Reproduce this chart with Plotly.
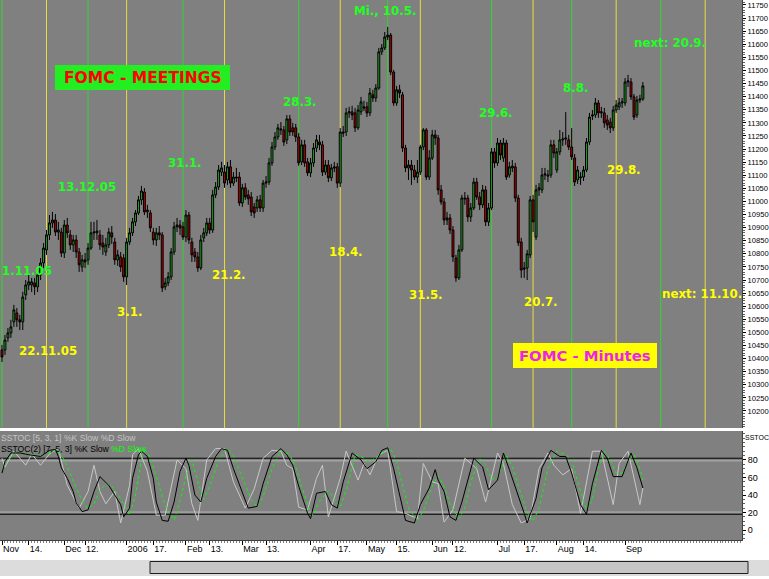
import plotly.graph_objects as go

# ---------------- DATA (daily bars, trading-day index 0 = 1 Nov 2005) ----------------
opens = [10433, 10433, 10479, 10498, 10540, 10574, 10548, 10540, 10643, 10681,
         10681, 10689, 10674, 10719, 10765, 10815, 10872, 10918, 10929, 10883,
         10883, 10803, 10910, 10872, 10834, 10853, 10807, 10750, 10777, 10777,
         10822, 10880, 10880, 10872, 10841, 10807, 10834, 10880, 10845, 10777,
         10788, 10784, 10712, 10845, 10880, 10922, 10956, 11006, 11036, 10960,
         10956, 10883, 10853, 10880, 10872, 10674, 10689, 10712, 10807, 10903,
         10910, 10903, 10864, 10948, 10845, 10807, 10788, 10746, 10861, 10880,
         10918, 10891, 11025, 11055, 11112, 11112, 11082, 11132, 11070, 11093,
         11093, 10994, 11052, 11025, 11017, 10979, 10975, 11006, 10975, 11070,
         11074, 11147, 11208, 11246, 11273, 11273, 11235, 11315, 11281, 11281,
         11246, 11151, 11216, 11151, 11109, 11147, 11204, 11227, 11216, 11112,
         11139, 11090, 11132, 11132, 11070, 11265, 11265, 11338, 11342, 11338,
         11281, 11342, 11361, 11361, 11338, 11407, 11395, 11433, 11571, 11586,
         11628, 11635, 11494, 11376, 11426, 11407, 11204, 11128, 11139, 11120,
         11093, 11112, 11208, 11273, 11093, 11166, 11254, 11242, 11044, 10998,
         10929, 10937, 10891, 10784, 10708, 10815, 11013, 11013, 10941, 10975,
         11074, 11017, 10987, 11044, 10922, 10975, 11189, 11147, 11223, 11166,
         11223, 11101, 11128, 11132, 11013, 10845, 10746, 10746, 10796, 11006,
         10864, 11044, 11044, 11101, 11101, 11101, 11216, 11120, 11189, 11235,
         11238, 11235, 11208, 11166, 11082, 11090, 11093, 11120, 11227, 11326,
         11330, 11376, 11338, 11338, 11311, 11303, 11281, 11349, 11361, 11376,
         11376, 11456, 11456, 11399, 11330, 11387, 11391]
closes = [10406, 10471, 10498, 10521, 10586, 10548, 10540, 10635, 10681, 10693,
          10693, 10674, 10719, 10765, 10822, 10872, 10918, 10929, 10883, 10891,
          10803, 10910, 10880, 10834, 10853, 10807, 10758, 10777, 10769, 10822,
          10880, 10883, 10887, 10834, 10826, 10834, 10883, 10864, 10777, 10796,
          10750, 10712, 10845, 10880, 10922, 10956, 11006, 11040, 10960, 10967,
          10899, 10853, 10880, 10872, 10670, 10689, 10712, 10807, 10903, 10910,
          10899, 10864, 10948, 10853, 10796, 10788, 10746, 10853, 10880, 10918,
          10891, 11025, 11055, 11120, 11128, 11070, 11132, 11070, 11093, 11090,
          10994, 11052, 11017, 11010, 10960, 10956, 11006, 10975, 11070, 11074,
          11147, 11208, 11246, 11281, 11276, 11227, 11315, 11265, 11265, 11246,
          11147, 11216, 11147, 11109, 11147, 11204, 11235, 11216, 11112, 11139,
          11090, 11128, 11128, 11070, 11265, 11261, 11338, 11342, 11330, 11281,
          11349, 11380, 11357, 11338, 11414, 11395, 11433, 11571, 11586, 11628,
          11635, 11494, 11376, 11426, 11414, 11204, 11128, 11139, 11120, 11093,
          11112, 11208, 11273, 11093, 11166, 11254, 11242, 11044, 10998, 10929,
          10937, 10891, 10788, 10708, 10815, 11013, 11010, 10941, 10975, 11074,
          11017, 10987, 11044, 10922, 10975, 11189, 11147, 11223, 11177, 11223,
          11093, 11132, 11135, 11013, 10842, 10738, 10742, 10800, 11006, 10922,
          11044, 11052, 11101, 11105, 11097, 11216, 11185, 11189, 11235, 11238,
          11242, 11208, 11170, 11074, 11120, 11093, 11120, 11227, 11322, 11330,
          11376, 11338, 11342, 11300, 11292, 11281, 11349, 11368, 11376, 11380,
          11456, 11460, 11399, 11322, 11387, 11391, 11441]
highs = [10452, 10490, 10517, 10548, 10605, 10593, 10567, 10655, 10700, 10719,
         10708, 10708, 10738, 10784, 10841, 10891, 10948, 10960, 10952, 10922,
         10899, 10929, 10937, 10891, 10872, 10872, 10822, 10796, 10803, 10841,
         10922, 10922, 10929, 10891, 10872, 10861, 10899, 10906, 10861, 10815,
         10807, 10799, 10861, 10899, 10937, 10967, 11021, 11059, 11051, 10987,
         10967, 10899, 10899, 10906, 10883, 10708, 10731, 10822, 10922, 10937,
         10929, 10922, 10967, 10960, 10861, 10822, 10807, 10872, 10899, 10937,
         10937, 11044, 11074, 11139, 11151, 11139, 11151, 11158, 11112, 11128,
         11112, 11067, 11070, 11044, 11036, 10994, 11021, 11025, 11082, 11097,
         11166, 11227, 11265, 11296, 11303, 11288, 11330, 11330, 11300, 11296,
         11261, 11235, 11235, 11166, 11166, 11223, 11254, 11254, 11231, 11158,
         11158, 11143, 11151, 11147, 11280, 11288, 11357, 11361, 11365, 11357,
         11368, 11399, 11384, 11380, 11433, 11426, 11448, 11586, 11601, 11647,
         11666, 11643, 11502, 11441, 11445, 11418, 11216, 11158, 11158, 11139,
         11158, 11216, 11280, 11280, 11196, 11273, 11273, 11254, 11063, 11013,
         10960, 10952, 10906, 10796, 10834, 11025, 11036, 11025, 10994, 11090,
         11090, 11036, 11063, 11059, 10994, 11204, 11204, 11242, 11235, 11242,
         11235, 11151, 11158, 11147, 11025, 10861, 10769, 10815, 11021, 11025,
         11063, 11070, 11128, 11128, 11120, 11235, 11235, 11204, 11273, 11265,
         11341, 11254, 11280, 11181, 11135, 11112, 11135, 11242, 11338, 11349,
         11395, 11387, 11361, 11357, 11330, 11319, 11364, 11387, 11395, 11395,
         11471, 11483, 11471, 11410, 11403, 11407, 11456]
lows = [10387, 10414, 10464, 10479, 10521, 10521, 10509, 10509, 10624, 10662,
        10654, 10643, 10654, 10700, 10746, 10796, 10853, 10899, 10868, 10853,
        10788, 10784, 10861, 10815, 10807, 10784, 10731, 10731, 10746, 10758,
        10815, 10853, 10853, 10815, 10796, 10792, 10822, 10838, 10758, 10754,
        10731, 10693, 10681, 10834, 10868, 10906, 10948, 10987, 10948, 10937,
        10883, 10834, 10830, 10853, 10654, 10662, 10677, 10700, 10796, 10883,
        10872, 10853, 10845, 10838, 10769, 10769, 10731, 10738, 10845, 10868,
        10876, 10880, 11013, 11044, 11097, 11052, 11063, 11052, 11059, 11074,
        10983, 10979, 11006, 10987, 10944, 10937, 10960, 10960, 10960, 11052,
        11063, 11136, 11196, 11235, 11254, 11212, 11219, 11250, 11250, 11227,
        11136, 11139, 11132, 11097, 11093, 11132, 11189, 11196, 11097, 11101,
        11074, 11078, 11112, 11052, 11055, 11246, 11250, 11319, 11311, 11265,
        11273, 11330, 11345, 11322, 11326, 11380, 11380, 11426, 11559, 11578,
        11616, 11482, 11365, 11365, 11395, 11189, 11112, 11082, 11063, 11082,
        11070, 11101, 11196, 11082, 11082, 11158, 11216, 11025, 10987, 10910,
        10910, 10876, 10769, 10693, 10700, 10807, 10987, 10922, 10922, 10967,
        11006, 10967, 10975, 10906, 10906, 10967, 11128, 11136, 11158, 11151,
        11082, 11090, 11112, 10998, 10830, 10708, 10708, 10700, 10784, 10883,
        10853, 11021, 11032, 11082, 11074, 11090, 11166, 11109, 11177, 11212,
        11216, 11196, 11158, 11059, 11067, 11063, 11078, 11112, 11216, 11311,
        11319, 11319, 11319, 11281, 11273, 11261, 11269, 11338, 11349, 11357,
        11365, 11437, 11387, 11311, 11319, 11376, 11384]

# FOMC meeting days / minutes release days (trading-day index)
meeting_idx = [0, 29, 61, 100, 130, 165, 192, 222]
minutes_idx = [15, 42, 75, 114, 141, 179, 207, 237]

# x-axis labels
tick_idx = [0, 9, 21, 28, 42, 51, 62, 70, 81, 89, 104, 113, 123, 133, 145, 152, 167, 176, 187, 196, 210]
tick_txt = ["Nov", "14.", "Dec", "12.", "2006", "17.", "Feb", "13.", "Mar", "13.", "Apr", "17.",
            "May", "15.", "Jun", "12.", "Jul", "17.", "Aug", "14.", "Sep"]
price_ticks = [10200, 10250, 10300, 10350, 10400, 10450, 10500, 10550, 10600, 10650, 10700,
               10750, 10800, 10850, 10900, 10950, 11000, 11050, 11100, 11150, 11200, 11250,
               11300, 11350, 11400, 11450, 11500, 11550, 11600, 11650, 11700, 11750]
stoch_ticks = [0, 20, 40, 60, 80]

# SSTOC(2) [7,5,3] %K (black)
k2_idx = [0, 1, 3, 6, 9, 13, 16, 18, 19, 20, 22, 24, 25, 27, 29, 31, 33, 35, 36, 38, 40, 41, 43, 44,
          46, 47, 49, 51, 52, 54, 56, 58, 60, 62, 63, 65, 67, 69, 72, 74, 76, 78, 81, 83, 86, 88, 91,
          94, 96, 98, 100, 103, 104, 106, 109, 111, 113, 115, 118, 121, 123, 126, 128, 130, 132, 134,
          136, 139, 141, 144, 146, 147, 149, 151, 153, 155, 159, 162, 164, 167, 169, 171, 174, 176,
          177, 180, 182, 185, 188, 190, 192, 195, 197, 199, 202, 204, 206, 209, 212, 214, 216]
k2_val = [65, 78, 88, 88, 86, 84, 91, 92, 84, 71, 59, 44, 31, 21, 23, 44, 61, 55, 51, 40, 29, 15, 25, 59,
          86, 90, 84, 59, 32, 11, 10, 32, 67, 82, 74, 40, 32, 59, 84, 93, 91, 70, 44, 25, 27, 53, 84,
          93, 86, 74, 50, 19, 13, 42, 44, 29, 25, 55, 88, 80, 70, 78, 91, 94, 70, 40,
          11, 8, 29, 48, 69, 57, 44, 15, 11, 32, 82, 72, 46, 57, 88, 69, 40, 19,
          8, 36, 71, 91, 84, 84, 65, 29, 18, 53, 91, 82, 61, 61, 88, 71, 48]
# SSTOC(2) %D (green dotted)
d2_idx = [0, 2, 5, 9, 13, 17, 19, 21, 24, 27, 29, 31, 33, 35, 37, 40, 43, 45, 47, 48, 50, 52, 55, 58,
          60, 62, 64, 66, 68, 70, 73, 76, 78, 81, 84, 86, 88, 91, 94, 97, 99, 101, 104, 105, 107, 110,
          112, 114, 116, 119, 121, 124, 127, 131, 133, 135, 137, 140, 142, 145, 147, 149, 151, 154,
          156, 158, 161, 163, 165, 167, 170, 172, 175, 177, 179, 181, 184, 187, 190, 192, 194, 197,
          199, 201, 203, 205, 207, 209, 211, 213, 215, 216]
d2_val = [70, 82, 88, 86, 85, 90, 90, 80, 56, 33, 24, 30, 45, 53, 50, 36, 17, 40, 80, 92, 83, 60, 28, 11,
          33, 62, 80, 55, 35, 50, 80, 93, 85, 60, 35, 26, 38, 70, 91, 86, 72, 50, 20, 17, 33, 45,
          35, 26, 45, 86, 84, 78, 85, 93, 78, 50, 25, 10, 22, 50, 62, 50, 30, 13,
          25, 55, 82, 75, 58, 60, 85, 72, 40, 20, 10, 25, 70, 90, 86, 80, 55, 23,
          35, 70, 90, 80, 65, 65, 78, 86, 70, 57]
# SSTOC [5,3,1] %K (light grey)
k1_idx = [0, 1, 4, 8, 10, 13, 16, 19, 22, 26, 29, 31, 33, 35, 38, 40, 43, 44, 46, 49, 52, 55, 59, 62,
          64, 66, 69, 72, 75, 78, 82, 85, 88, 91, 94, 96, 98, 100, 103, 106, 108, 110, 114, 116, 120,
          122, 124, 127, 130, 133, 136, 140, 142, 145, 147, 149, 152, 156, 160, 163, 167, 169, 172,
          175, 178, 181, 184, 186, 189, 192, 195, 199, 202, 206, 208, 211, 215, 216]
k1_val = [82, 72, 90, 74, 87, 74, 87, 93, 51, 25, 44, 74, 44, 30, 44, 8, 51, 86, 93, 67, 17, 17, 80, 70,
          30, 11, 80, 93, 93, 55, 25, 47, 82, 91, 90, 74, 70, 26, 23, 59, 74, 15, 59, 90, 57,
          76, 63, 86, 91, 21, 19, 13, 76, 55, 53, 9, 23, 82, 70, 32, 88, 76, 29,
          8, 13, 70, 88, 74, 63, 70, 19, 90, 90, 29, 76, 90, 29, 48]
k2_levels = [82, 18]
k1_levels = [79, 20.5]

event_labels = ["22.11.05", "1.11.05", "13.12.05", "3.1.", "31.1.", "21.2.", "28.3.", "18.4.",
                "Mi., 10.5.", "31.5.", "29.6.", "20.7.", "8.8.", "29.8.", "next: 20.9.", "next: 11.10."]

# ---------------- LAYOUT HELPERS ----------------
W, H, PW = 769, 579, 742          # PW = plot-area width in pixels
BAR_PX = 2.967                    # pixels per trading day
GREEN_T, YELLOW_T = "#22ff22", "#ffff00"
GREEN_L, YELLOW_L = "#33d433", "#e8dc3a"


def px(x):
    return x / PW


def py(y):
    return (H - y) / H


N = len(closes)
xs = list(range(N))
xr = [-2 / BAR_PX, (PW - 2) / BAR_PX]

fig = go.Figure()
fig.add_trace(go.Candlestick(
    x=xs, open=opens, high=highs, low=lows, close=closes,
    increasing=dict(fillcolor="#1ea81e", line=dict(color="#000000", width=1)),
    decreasing=dict(fillcolor="#b30000", line=dict(color="#000000", width=1)),
    whiskerwidth=0, xaxis="x", yaxis="y", showlegend=False, hoverinfo="skip"))

fig.add_trace(go.Scatter(x=k1_idx, y=k1_val, mode="lines", xaxis="x2", yaxis="y2",
                         line=dict(color="#c8c8c8", width=1), hoverinfo="skip"))
fig.add_trace(go.Scatter(x=d2_idx, y=d2_val, mode="lines", xaxis="x2", yaxis="y2",
                         line=dict(color="#00ff00", width=1, dash="dot"), hoverinfo="skip"))
fig.add_trace(go.Scatter(x=k2_idx, y=k2_val, mode="lines", xaxis="x2", yaxis="y2",
                         line=dict(color="#000000", width=1), hoverinfo="skip"))

shapes = []
pt_bottom = py(428)
for i in meeting_idx:
    shapes.append(dict(type="line", xref="x", yref="paper", x0=i, x1=i, y0=pt_bottom, y1=1,
                       line=dict(color=GREEN_L, width=1), layer="below"))
for i in minutes_idx:
    shapes.append(dict(type="line", xref="x", yref="paper", x0=i, x1=i, y0=pt_bottom, y1=1,
                       line=dict(color=YELLOW_L, width=1), layer="below"))
for lv in k1_levels:
    shapes.append(dict(type="line", xref="paper", yref="y2", x0=0, x1=1, y0=lv, y1=lv,
                       line=dict(color="#b4b4b4", width=1), layer="below"))
for lv in k2_levels:
    shapes.append(dict(type="line", xref="paper", yref="y2", x0=0, x1=1, y0=lv, y1=lv,
                       line=dict(color="#000000", width=1), layer="below"))
# legend boxes
shapes.append(dict(type="rect", xref="paper", yref="paper", x0=px(55), x1=px(230), y0=py(90), y1=py(65),
                   fillcolor="#22ee22", line=dict(width=0)))
shapes.append(dict(type="rect", xref="paper", yref="paper", x0=px(513), x1=px(657), y0=py(368), y1=py(343),
                   fillcolor="#ffff00", line=dict(width=0)))
# scrollbar
shapes.append(dict(type="rect", xref="paper", yref="paper", x0=0, x1=px(W), y0=py(576), y1=py(560),
                   fillcolor="#dcdcdc", line=dict(width=0)))
shapes.append(dict(type="rect", xref="paper", yref="paper", x0=px(150), x1=px(748), y0=py(573.5), y1=py(561.5),
                   fillcolor="#c6c6c6", line=dict(color="#202020", width=1)))


def label(text, color, x, y, anchor="left", size=11.8):
    return dict(text="<b>" + text + "</b>", x=px(x), y=py(y), xref="paper", yref="paper",
                xanchor=anchor, yanchor="middle", showarrow=False,
                font=dict(family="DejaVu Sans", size=size, color=color))


pos = [(YELLOW_T, 17, 351, "left"), (GREEN_T, 0, 271, "left"), (GREEN_T, 56, 187, "left"),
       (YELLOW_T, 115, 312, "left"), (GREEN_T, 166, 163, "left"), (YELLOW_T, 210, 275, "left"),
       (GREEN_T, 281, 102, "left"), (YELLOW_T, 327, 252, "left"), (GREEN_T, 352, 11, "left"),
       (YELLOW_T, 407, 295, "left"), (GREEN_T, 477, 113, "left"), (YELLOW_T, 522, 302, "left"),
       (GREEN_T, 561, 88, "left"), (YELLOW_T, 605, 170, "left"), (GREEN_T, 632, 43, "left"),
       (YELLOW_T, 660, 293.5, "left")]
annotations = [label(t, c, x, y, a) for t, (c, x, y, a) in zip(event_labels, pos)]
annotations.append(dict(text="<b>FOMC - MEETINGS</b>", x=px(142.5), y=py(77.5), xref="paper", yref="paper",
                        showarrow=False, xanchor="center", yanchor="middle",
                        font=dict(family="DejaVu Sans", size=15.5, color="#ff0000")))
annotations.append(dict(text="<b>FOMC - Minutes</b>", x=px(585), y=py(355.5), xref="paper", yref="paper",
                        showarrow=False, xanchor="center", yanchor="middle",
                        font=dict(family="DejaVu Sans", size=14.8, color="#ee22ee")))
small = dict(family="Liberation Sans", size=8.6)
annotations.append(dict(text="SSTOC [5, 3, 1] %K Slow %D Slow", x=px(-1), y=py(438), xref="paper",
                        yref="paper", showarrow=False, xanchor="left", yanchor="middle",
                        font=dict(color="#c4c4c4", **small)))
annotations.append(dict(text="SSTOC(2) [7, 5, 3] %K Slow <span style='color:#00ff00'>%D Slow</span>",
                        x=px(-1), y=py(449.5), xref="paper", yref="paper", showarrow=False,
                        xanchor="left", yanchor="middle", font=dict(color="#000000", **small)))
annotations.append(dict(text="SSTOC", x=px(743), y=py(437.5), xref="paper", yref="paper",
                        showarrow=False, xanchor="left", yanchor="middle",
                        font=dict(family="Liberation Sans", size=7, color="#000000")))

axfont = dict(family="Liberation Sans", size=7.6, color="#000000")
xfont = dict(family="Liberation Sans", size=9, color="#000000")
fig.update_layout(
    width=W, height=H, margin=dict(l=0, r=W - PW, t=0, b=0, autoexpand=False),
    paper_bgcolor="#ffffff", plot_bgcolor="#808080", showlegend=False, boxgap=0.08,
    xaxis=dict(domain=[0, 1], anchor="y", range=xr, showticklabels=False, ticks="", automargin=False,
               showgrid=False, zeroline=False, showline=False, rangeslider=dict(visible=False)),
    yaxis=dict(domain=[py(428), 1], anchor="x", range=[10135, 11769], side="right", automargin=False,
               tickmode="array", tickvals=price_ticks, ticktext=[str(v) for v in price_ticks],
               ticks="outside", ticklen=3, tickcolor="#000000", tickfont=axfont,
               showgrid=False, zeroline=False, showline=True, linecolor="#404040", linewidth=1,
               minor=dict(tickmode="linear", tick0=10200, dtick=10, ticks="outside", ticklen=2,
                          tickcolor="#606060", showgrid=False)),
    xaxis2=dict(domain=[0, 1], anchor="y2", range=xr, tickmode="array", tickvals=tick_idx,
                ticktext=tick_txt, ticklabelposition="outside right", ticks="outside", ticklen=4,
                tickangle=0, tickcolor="#000000", tickfont=xfont, showgrid=False, zeroline=False,
                showline=True, linecolor="#404040", linewidth=1, automargin=False,
                minor=dict(tickmode="linear", tick0=0, dtick=1, ticks="outside", ticklen=2,
                           tickcolor="#808080", showgrid=False)),
    yaxis2=dict(domain=[py(540), py(431)], anchor="x2", range=[-11.4, 113.1], side="right",
                tickmode="array", tickvals=stoch_ticks, ticktext=[str(v) for v in stoch_ticks],
                ticks="outside", ticklen=3, tickcolor="#000000", tickfont=xfont, automargin=False,
                showgrid=False, zeroline=False, showline=True, linecolor="#404040", linewidth=1,
                minor=dict(tickmode="linear", tick0=0, dtick=5, ticks="outside", ticklen=2,
                           tickcolor="#606060", showgrid=False)),
    shapes=shapes, annotations=annotations,
)

fig.write_html("out.html", config={"displayModeBar": False},
               post_script="document.body.style.margin='0';document.body.style.overflow='hidden';")
